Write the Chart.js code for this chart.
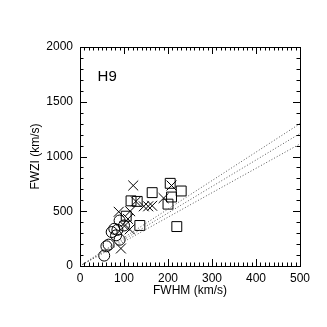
<!DOCTYPE html>
<html>
<head>
<meta charset="utf-8">
<script src="https://cdn.jsdelivr.net/npm/chart.js@4/dist/chart.umd.min.js"></script>
<style>
  html, body { margin: 0; padding: 0; background: #fff; }
  canvas { display: block; }
</style>
</head>
<body>
<canvas id="c" width="327" height="327"></canvas>
<script>
// 데이터
const circX = [55, 60, 65, 72, 78, 85, 82, 90, 90, 100];
const circY = [95, 180, 195, 310, 340, 330, 280, 240, 415, 370];

const crossX = [121, 208, 190, 127, 145, 155, 164, 88, 114, 109, 101, 113, 93];
const crossY = [735, 735, 620, 590, 545, 545, 550, 495, 500, 430, 365, 335, 160];

const sqX = [116, 130, 105, 136, 164, 205, 230, 208, 200, 220];
const sqY = [595, 590, 455, 370, 670, 755, 685, 630, 565, 360];

// 점선 (원점에서 x=500까지)
const fitX = [0, 500];
const fitTop = [0, 1300];
const fitMid = [0, 1210];
const fitLow = [0, 1115];

const xTicks = [0, 100, 200, 300, 400, 500];
const yTicks = [0, 500, 1000, 1500, 2000];

const pts = (xs, ys) => xs.map((x, i) => ({ x: x, y: ys[i] }));

const FONT = "'Liberation Sans', Arial, Helvetica, sans-serif";

// 안쪽 눈금 + 테두리 + H9 라벨
const frame = {
  id: 'frame',
  afterDraw(chart) {
    const c = chart.ctx;
    const a = chart.chartArea;
    const sx = chart.scales.x, sy = chart.scales.y;
    c.save();
    c.strokeStyle = '#000';
    c.lineWidth = 1;
    c.beginPath();
    for (let v = 0; v <= 500; v += 10) {
      const px = Math.round(sx.getPixelForValue(v)) + 0.5;
      const len = v % 100 === 0 ? 7 : 3.5;
      c.moveTo(px, a.bottom); c.lineTo(px, a.bottom - len);
      c.moveTo(px, a.top); c.lineTo(px, a.top + len);
    }
    for (let v = 0; v <= 2000; v += 100) {
      const py = Math.round(sy.getPixelForValue(v)) + 0.5;
      const len = v % 500 === 0 ? 7 : 3.5;
      c.moveTo(a.left, py); c.lineTo(a.left + len, py);
      c.moveTo(a.right, py); c.lineTo(a.right - len, py);
    }
    c.stroke();
    c.strokeRect(Math.round(a.left) + 0.5, Math.round(a.top) + 0.5,
                 Math.round(a.right - a.left), Math.round(a.bottom - a.top));
    c.fillStyle = '#000';
    c.font = '15px ' + FONT;
    c.textBaseline = 'middle';
    c.textAlign = 'left';
    c.fillText('H9', sx.getPixelForValue(40), sy.getPixelForValue(1725));
    c.restore();
  }
};

const marker = (label, data, style, r) => ({
  type: 'scatter',
  label: label,
  data: data,
  pointStyle: style,
  pointRadius: r,
  pointBorderColor: '#000',
  pointBackgroundColor: 'rgba(0,0,0,0)',
  pointBorderWidth: 1,
  showLine: false
});

const fitLine = (data) => ({
  type: 'line',
  data: pts(fitX, data),
  borderColor: '#555',
  borderWidth: 1,
  borderDash: [1, 2],
  pointRadius: 0,
  fill: false
});

new Chart(document.getElementById('c'), {
  type: 'scatter',
  data: {
    datasets: [
      fitLine(fitTop),
      fitLine(fitMid),
      fitLine(fitLow),
      marker('circle', pts(circX, circY), 'circle', 5.5),
      marker('square', pts(sqX, sqY), 'rect', 7),
      marker('cross', pts(crossX, crossY), 'crossRot', 7)
    ]
  },
  plugins: [frame],
  options: {
    responsive: false,
    animation: false,
    layout: { padding: { top: 47, right: 27, bottom: 0, left: 0 } },
    plugins: {
      legend: { display: false },
      tooltip: { enabled: false }
    },
    scales: {
      x: {
        type: 'linear',
        min: 0, max: 500,
        afterFit: s => { s.height = 61; },
        afterBuildTicks: s => { s.ticks = xTicks.map(v => ({ value: v })); },
        grid: { display: false, drawTicks: false },
        border: { display: false },
        ticks: { color: '#000', padding: 5, maxRotation: 0, font: { size: 12, family: FONT },
                 callback: v => String(v) },
        title: { display: true, text: 'FWHM (km/s)', color: '#000', padding: { top: 0, bottom: 29 }, font: { size: 12, family: FONT } }
      },
      y: {
        type: 'linear',
        min: 0, max: 2000,
        afterFit: s => { s.width = 80; },
        afterBuildTicks: s => { s.ticks = yTicks.map(v => ({ value: v })); },
        grid: { display: false, drawTicks: false },
        border: { display: false },
        ticks: { color: '#000', padding: 7, font: { size: 12, family: FONT },
                 callback: v => String(v) },
        title: { display: true, text: 'FWZI (km/s)', color: '#000', padding: { top: 28, bottom: 0 }, font: { size: 12, family: FONT } }
      }
    }
  }
});
</script>
</body>
</html>
